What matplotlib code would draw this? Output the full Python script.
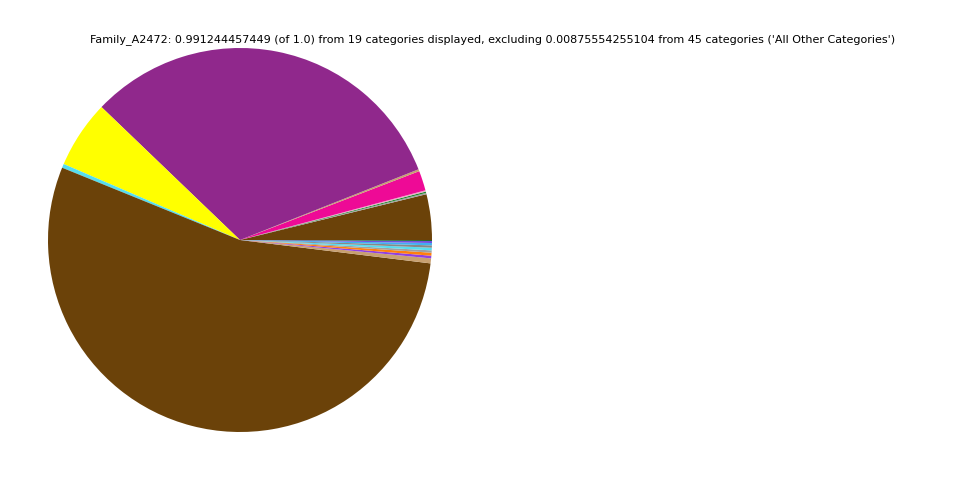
import matplotlib
matplotlib.use('Agg')
import matplotlib.pyplot as plt

# slice sizes (in degrees, counterclockwise from 3 o'clock)
labels = ['c01', 'c02', 'c03', 'c04', 'c05', 'c06', 'c07', 'c08', 'c09', 'c10',
          'c11', 'c12', 'c13', 'c14', 'c15', 'c16', 'c17', 'c18', 'c19']
degrees = [13.8, 0.4, 0.4, 0.4, 6.0, 0.6, 114.5, 20.5, 1.2, 195.0,
           1.5, 0.8, 0.9, 0.7, 0.8, 0.7, 0.7, 0.6, 0.3]
colors = ['#6b4209', '#a0a0a0', '#1e8a2e', '#f0a8c8', '#ee0a96', '#c8a070',
          '#90288c', '#ffff00', '#55ddee', '#6b4209',
          '#c8a070', '#9040e0', '#ff7f0e', '#a0a0a0', '#55ddee', '#888888',
          '#40b0f0', '#7050e0', '#1e6a2e']

displayed = 0.991244457449
values = [d / sum(degrees) * displayed for d in degrees]

fig = plt.figure(figsize=(9.6, 4.8), dpi=100)
ax = fig.add_axes([0.05, 0.1, 0.4, 0.8])
ax.pie(values, colors=colors, startangle=0, counterclock=True)
ax.set_xlim(-1, 1)
ax.set_ylim(-1, 1)
ax.set_aspect('equal')
fig.text(0.513, 0.917,
         "Family_A2472: 0.991244457449 (of 1.0) from 19 categories displayed, "
         "excluding 0.00875554255104 from 45 categories ('All Other Categories')",
         ha='center', va='center', fontsize=8)
fig.savefig('out.png', dpi=100)
